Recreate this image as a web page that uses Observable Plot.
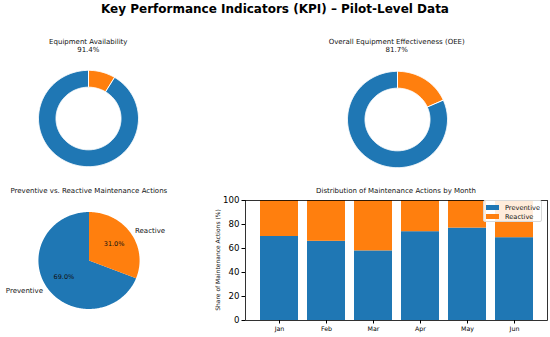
<!DOCTYPE html>
<html>
<head>
<meta charset="utf-8">
<script src="https://cdn.jsdelivr.net/npm/d3@7"></script>
<script src="https://cdn.jsdelivr.net/npm/@observablehq/plot@0.6"></script>
<style>
  html, body { margin: 0; padding: 0; background: #fff; }
  #fig { position: relative; width: 550px; height: 337px; overflow: hidden; font-family: "DejaVu Sans", sans-serif; color: #000; }
  .abs { position: absolute; }
  .ttl { position: absolute; text-align: center; white-space: nowrap; font-size: 7px; line-height: 8.3px; color: #111; }
  .legend { position: absolute; background: rgba(255,255,255,0.85); border: 1px solid #d8d8d8; border-radius: 2px; box-sizing: border-box; font-size: 6.6px; color: #111; }
  .legend .row { position: absolute; left: 2px; display: flex; align-items: center; white-space: nowrap; }
  .legend .sw { width: 13px; height: 4.5px; margin-right: 6px; }
</style>
</head>
<body>
<div id="fig"></div>
<script>
// ---------- data ----------
const figureTitle = "Key Performance Indicators (KPI) – Pilot-Level Data";

const availabilityTitle = "Equipment Availability";
const availabilityValues = [91.4, 8.6];

const oeeTitle = "Overall Equipment Effectiveness (OEE)";
const oeeValues = [81.7, 18.3];

const pieTitle = "Preventive vs. Reactive Maintenance Actions";
const pieLabels = ["Preventive", "Reactive"];
const pieValues = [69.0, 31.0];

const barTitle = "Distribution of Maintenance Actions by Month";
const barYLabel = "Share of Maintenance Actions (%)";
const months = ["Jan", "Feb", "Mar", "Apr", "May", "Jun"];
const preventive = [70, 66, 58, 74, 77, 69];
const reactive = [30, 34, 42, 26, 23, 31];
const yTicks = [0, 20, 40, 60, 80, 100];

const colors = ["#1f77b4", "#ff7f0e"];

// ---------- helpers ----------
const fig = document.getElementById("fig");
const baseStyle = { fontFamily: "DejaVu Sans", background: "transparent", overflow: "visible", color: "#000" };

function place(el, left, top) {
  el.style.position = "absolute";
  el.style.left = left + "px";
  el.style.top = top + "px";
  fig.appendChild(el);
}
function addText(html, cls, left, top, width, extra) {
  const d = document.createElement("div");
  d.className = cls;
  d.innerHTML = html;
  d.style.left = left + "px";
  d.style.top = top + "px";
  d.style.width = width + "px";
  if (extra) Object.assign(d.style, extra);
  fig.appendChild(d);
  return d;
}

// wedge outline in data units, counter-clockwise from 12 o'clock (matplotlib startangle=90)
function wedge(a0, a1, rOut, rIn) {
  const n = Math.max(2, Math.ceil((a1 - a0) / (Math.PI / 180)));
  const pts = [];
  for (let i = 0; i <= n; i++) {
    const a = a0 + (a1 - a0) * i / n;
    pts.push({ x: -rOut * Math.sin(a), y: rOut * Math.cos(a) });
  }
  if (rIn > 0) {
    for (let i = n; i >= 0; i--) {
      const a = a0 + (a1 - a0) * i / n;
      pts.push({ x: -rIn * Math.sin(a), y: rIn * Math.cos(a) });
    }
  } else {
    pts.push({ x: 0, y: 0 });
  }
  return pts;
}

function pieMarks(values, rIn, edge) {
  const arcs = d3.pie().sort(null)(values);
  return arcs.map((a, i) =>
    Plot.line(wedge(a.startAngle, a.endAngle, 1, rIn), {
      x: "x", y: "y", curve: "linear-closed",
      fill: colors[i], stroke: edge ? "white" : "none", strokeWidth: edge ? 1 : 0
    })
  );
}

// ---------- figure title ----------
addText(figureTitle, "abs", 0, 1, 550, { textAlign: "center", fontWeight: "bold", fontSize: "12px", lineHeight: "17px" });

// ---------- donuts ----------
function donut(values, title, cx, cy) {
  const p = Plot.plot({
    width: 110, height: 106, margin: 0,
    x: { domain: [-1.1, 1.1], axis: null },
    y: { domain: [-1.1, 1.1], axis: null },
    style: baseStyle,
    marks: pieMarks(values, 0.65, true)
  });
  place(p, cx - 55, cy - 53);
  addText(title + "<br>" + values[0].toFixed(1) + "%", "ttl", cx - 100, 38.2, 200);
}
donut(availabilityValues, availabilityTitle, 88.3, 118.3);
donut(oeeValues, oeeTitle, 396.7, 118.7);

// ---------- pie ----------
{
  const arcs = d3.pie().sort(null)(pieValues);
  const mid = arcs.map(a => (a.startAngle + a.endAngle) / 2);
  const labelPos = pieLabels.map((l, i) => ({ text: l, x: -1.1 * Math.sin(mid[i]), y: 1.1 * Math.cos(mid[i]) }));
  const pctPos = pieValues.map((v, i) => ({ text: v.toFixed(1) + "%", x: -0.6 * Math.sin(mid[i]), y: 0.6 * Math.cos(mid[i]) }));
  const p = Plot.plot({
    width: 177, height: 126, margin: 0,
    x: { domain: [-1.75, 1.75], axis: null },
    y: { domain: [-1.3, 1.3], axis: null },
    style: baseStyle,
    marks: [
      ...pieMarks(pieValues, 0, false),
      Plot.text(labelPos.filter(d => d.x >= 0), { x: "x", y: "y", text: "text", textAnchor: "start", fontSize: 7, fill: "#111" }),
      Plot.text(labelPos.filter(d => d.x < 0), { x: "x", y: "y", text: "text", textAnchor: "end", fontSize: 7, fill: "#111" }),
      Plot.text(pctPos, { x: "x", y: "y", text: "text", fontSize: 6.5, fill: "#111" })
    ]
  });
  place(p, 0.3, 197);
  addText(pieTitle, "ttl", 88.8 - 100, 187, 200);
}

// ---------- stacked bars ----------
{
  const barData = months.flatMap((m, i) => [
    { month: m, type: pieLabels[0], value: preventive[i] },
    { month: m, type: pieLabels[1], value: reactive[i] }
  ]);
  const p = Plot.plot({
    width: 350, height: 157,
    marginLeft: 45, marginRight: 3, marginTop: 20, marginBottom: 17,
    x: { domain: months, paddingInner: 0.2, paddingOuter: 0.3, label: null, axis: null },
    y: { domain: [0, 100], label: null, axis: null },
    color: { domain: pieLabels, range: colors },
    style: baseStyle,
    marks: [
      Plot.barY(barData, { x: "month", y: "value", fill: "type" }),
      Plot.frame({ stroke: "#000", strokeWidth: 0.8 }),
      Plot.axisY({ ticks: yTicks, tickSize: 3.5, tickPadding: 2.5, fontSize: 8.6, label: null, stroke: "#000" }),
      Plot.axisX({ tickSize: 3.5, tickPadding: 2.5, fontSize: 6.3, label: null, stroke: "#000" })
    ]
  });
  place(p, 200, 180);
  addText(barTitle, "ttl", 396 - 120, 186.5, 240);

  // rotated y-axis label, centred on the frame's vertical middle (y = 260)
  addText(barYLabel, "abs", 218 - 80, 260 - 4, 160, {
    textAlign: "center", fontSize: "6px", lineHeight: "8px", color: "#111",
    whiteSpace: "nowrap", transform: "rotate(-90deg)", transformOrigin: "50% 50%"
  });

  // legend
  const lg = document.createElement("div");
  lg.className = "legend";
  Object.assign(lg.style, { left: "483px", top: "200px", width: "59px", height: "22px" });
  pieLabels.forEach((l, i) => {
    const r = document.createElement("div");
    r.className = "row";
    r.style.top = (3 + i * 9) + "px";
    r.style.height = "7px";
    r.innerHTML = `<span class="sw" style="background:${colors[i]}"></span><span>${l}</span>`;
    lg.appendChild(r);
  });
  fig.appendChild(lg);
}
</script>
</body>
</html>
